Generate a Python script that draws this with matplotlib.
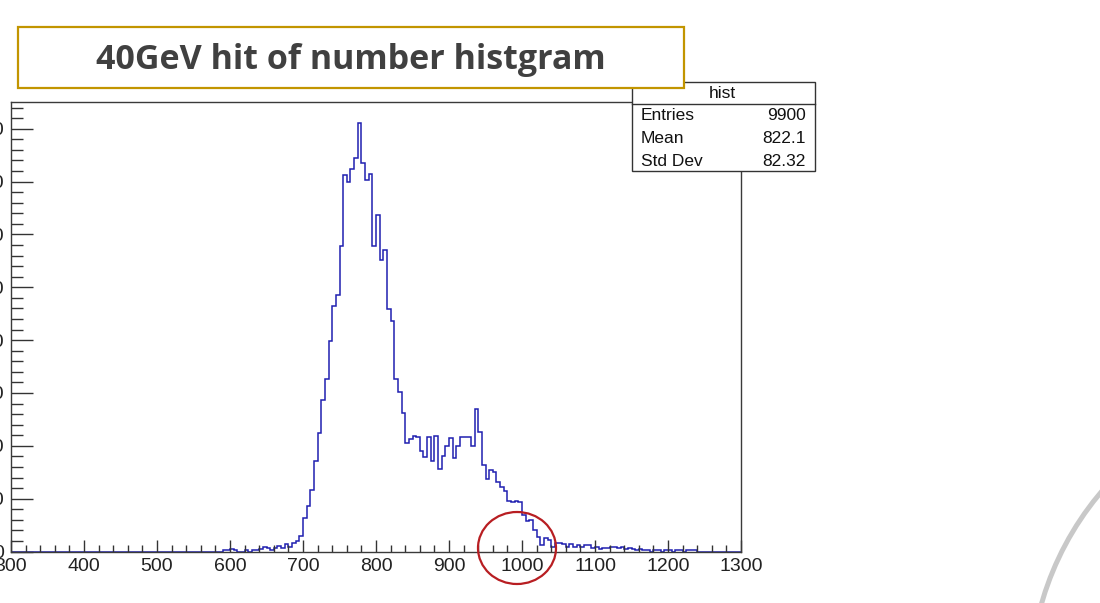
import matplotlib
matplotlib.use("Agg")
import matplotlib.pyplot as plt
import numpy as np
from matplotlib.patches import Rectangle, Ellipse, Circle
from matplotlib.lines import Line2D
from matplotlib.transforms import Affine2D
from matplotlib.ticker import MultipleLocator

# ---------------- data ----------------
title = "40GeV hit of number histgram"
hist_name = "hist"
x_min, x_max = 300, 1300
bin_width = 5
first_edge = 590
counts = [
    1, 1, 2, 1, 0, 0, 1, 0, 1, 1,            # 590-635
    2, 4, 3, 1, 3, 5, 3, 7, 4, 8,            # 640-685
    10, 15, 32, 43, 58, 86, 112, 143, 163, 199,   # 690-735
    232, 243, 289, 356, 350, 362, 372, 405, 368, 351,  # 740-785
    357, 289, 318, 276, 285, 229, 218, 163, 151, 131,  # 790-835
    103, 106, 109, 108, 95, 89, 108, 86, 109, 78,     # 840-885
    90, 100, 107, 88, 100, 108, 108, 108, 100, 135,   # 890-935
    113, 82, 69, 77, 75, 66, 61, 57, 48, 47,          # 940-985
    48, 47, 35, 29, 30, 20, 14, 6, 13, 11,            # 990-1035
    4, 8, 8, 7, 4, 7, 4, 6, 4, 6,                     # 1040-1085
    6, 3, 4, 2, 3, 3, 4, 4, 3, 4,                     # 1090-1135
    2, 3, 2, 1, 2, 1, 1, 0, 1, 1,                     # 1140-1185
    0, 1, 1, 0, 1, 1, 0, 1, 1, 1,                     # 1190-1235
]
stat_labels = ["Entries", "Mean", "Std Dev"]
stat_values = ["9900", "822.1", "82.32"]

# ---------------- figure ----------------
W, H = 1100, 603
fig = plt.figure(figsize=(W / 100, H / 100), dpi=100)
fig.patch.set_facecolor("white")
# pixel transform with origin at top-left
px = Affine2D().scale(1, -1).translate(0, H).scale(1 / W, 1 / H) + fig.transFigure

ax = fig.add_axes([11 / W, (H - 551.5) / H, 730 / W, 449.5 / H])

edges = np.arange(x_min, x_max + bin_width, bin_width)
full = np.zeros(len(edges) - 1)
i0 = int((first_edge - x_min) // bin_width)
full[i0:i0 + len(counts)] = counts
ax.stairs(full, edges, color="#1f1fb0", lw=1.1, baseline=0, zorder=1)

ax.set_xlim(x_min, x_max)
ax.set_ylim(0, 1.05 * max(counts))

ax.xaxis.set_major_locator(MultipleLocator(100))
ax.xaxis.set_minor_locator(MultipleLocator(20))
ax.yaxis.set_major_locator(MultipleLocator(50))
ax.yaxis.set_minor_locator(MultipleLocator(10))

tick_col = "#333333"
ax.tick_params(axis="x", which="major", direction="in", length=8.6, width=1.0,
               color=tick_col, labelsize=14, pad=4.5, labelcolor="#222222")
ax.tick_params(axis="x", which="minor", direction="in", length=4.7, width=1.0, color=tick_col)
ax.tick_params(axis="y", which="major", direction="in", length=15.8, width=1.0,
               color=tick_col, labelsize=14, pad=5, labelcolor="#222222")
ax.tick_params(axis="y", which="minor", direction="in", length=8.6, width=1.0, color=tick_col)
for lab in ax.get_xticklabels() + ax.get_yticklabels():
    lab.set_family("Liberation Sans")
for s in ax.spines.values():
    s.set_color("#3a3a3a")
    s.set_linewidth(1.0)

# ---------------- stats box ----------------
fig.patches.append(Rectangle((632, 82), 183, 89, transform=px, facecolor="white",
                             edgecolor="#333333", lw=1.0, zorder=5))
fig.lines.append(Line2D([632, 815], [104, 104], transform=px, color="#333333", lw=1.0, zorder=6))
fig.text(722, 93.5, hist_name, transform=px, ha="center", va="center",
         fontsize=12.5, family="Liberation Sans", color="#111111", zorder=7)
for k, (lab, val) in enumerate(zip(stat_labels, stat_values)):
    yy = 116 + k * 22.5
    fig.text(641, yy, lab, transform=px, ha="left", va="center",
             fontsize=12.5, family="Liberation Sans", color="#111111", zorder=7)
    fig.text(806, yy, val, transform=px, ha="right", va="center",
             fontsize=12.5, family="Liberation Sans", color="#111111", zorder=7)

# ---------------- title box ----------------
fig.patches.append(Rectangle((18, 27), 666, 61, transform=px, facecolor="white",
                             edgecolor="#C29500", lw=1.6, zorder=5))
fig.text(351, 60, title, transform=px, ha="center", va="center", fontsize=24.5,
         fontweight="bold", family="Open Sans", color="#404040", zorder=7)

# ---------------- annotations ----------------
fig.patches.append(Ellipse((517, 548), 78, 72, transform=px, fill=False,
                           edgecolor="#B81E22", lw=1.6, zorder=6))
fig.patches.append(Circle((1330, 686), 300, transform=px, fill=False,
                          edgecolor="#C8C8C8", lw=3.6, zorder=6))

fig.savefig("out.png", dpi=100)
